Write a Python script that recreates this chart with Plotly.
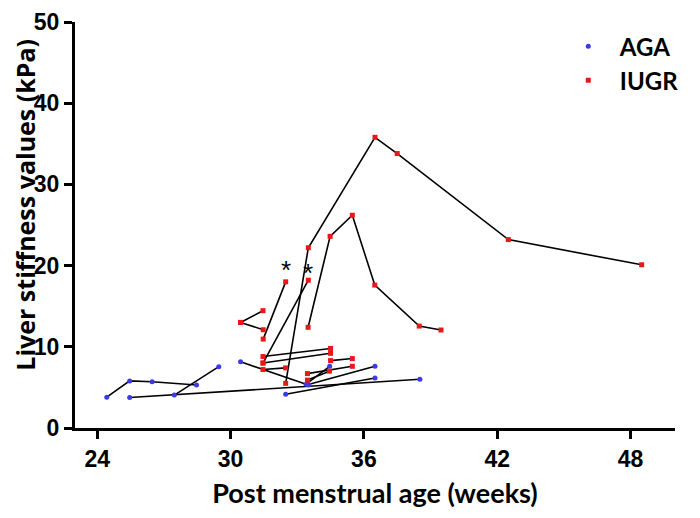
import plotly.graph_objects as go

# AGA subjects (post menstrual age in weeks, liver stiffness in kPa)
aga_x = [
    [24.43, 25.46, 26.47, 28.47],
    [25.46, 38.52],
    [27.47, 29.47],
    [30.45, 33.5],
    [32.48, 36.5],
    [33.5, 36.5],
    [33.4, 34.46],
]
aga_y = [
    [3.8, 5.8, 5.7, 5.3],
    [3.75, 6.0],
    [4.05, 7.55],
    [8.15, 5.3],
    [4.15, 6.15],
    [5.35, 7.6],
    [5.4, 7.6],
]

# IUGR subjects
iugr_x = [
    [32.48, 33.5, 36.5, 37.5, 42.5, 48.5],
    [33.49, 34.48, 35.48, 36.49, 38.49, 39.47],
    [30.45, 31.46],
    [30.45, 31.47],
    [31.47, 32.48],
    [31.46, 33.5],
    [31.46, 34.5],
    [31.46, 34.5],
    [31.46, 32.48],
    [34.5, 35.48],
    [33.46, 35.48],
    [33.46, 34.45],
]
iugr_y = [
    [5.5, 22.2, 35.8, 33.8, 23.2, 20.1],
    [12.4, 23.6, 26.2, 17.6, 12.55, 12.07],
    [13.0, 14.45],
    [13.0, 12.1],
    [10.95, 18.0],
    [8.0, 18.2],
    [8.8, 9.8],
    [8.0, 9.2],
    [7.2, 7.4],
    [8.3, 8.55],
    [6.7, 7.6],
    [5.9, 7.0],
]

star_x = [32.48, 33.5]
star_y = [19.9, 19.6]

x_ticks = [24, 30, 36, 42, 48]
y_ticks = [0, 10, 20, 30, 40, 50]


def flatten(groups):
    out = []
    for g in groups:
        out.extend(g)
        out.append(None)
    return out


fig = go.Figure()

# connecting lines
fig.add_trace(go.Scatter(
    x=flatten(aga_x) + flatten(iugr_x),
    y=flatten(aga_y) + flatten(iugr_y),
    mode="lines", line=dict(color="black", width=1.6),
    showlegend=False, hoverinfo="skip"))

# markers
fig.add_trace(go.Scatter(
    x=[v for g in aga_x for v in g], y=[v for g in aga_y for v in g],
    mode="markers", name="AGA",
    marker=dict(symbol="circle", size=5, color="#3a3ae8")))
fig.add_trace(go.Scatter(
    x=[v for g in iugr_x for v in g], y=[v for g in iugr_y for v in g],
    mode="markers", name="IUGR",
    marker=dict(symbol="square", size=5, color="#e81818")))

for sx, sy in zip(star_x, star_y):
    fig.add_annotation(x=sx, y=sy, text="*", showarrow=False,
                       font=dict(size=26, color="black", family="Liberation Sans"),
                       yshift=-4)

# y-axis title as annotation (placed slightly above plot centre as in reference)
fig.add_annotation(x=-0.0833, y=0.55, xref="paper", yref="paper",
                   text="Liver stiffness values (kPa)", textangle=-90,
                   showarrow=False, xanchor="center", yanchor="middle",
                   font=dict(family="Open Sans", size=25, color="black", weight="bold"))

axis_common = dict(
    showline=True, linecolor="black", linewidth=3,
    ticks="outside", ticklen=8, tickwidth=3, tickcolor="black",
    showgrid=False, zeroline=False, automargin=False,
    ticklabeloverflow="allow",
    tickfont=dict(family="Liberation Sans", size=23, color="black", weight="bold"),
)

fig.update_xaxes(range=[23, 50], tickvals=x_ticks, **axis_common,
                 title=dict(text="Post menstrual age (weeks)", standoff=14,
                            font=dict(family="Lato", size=27, color="black", weight="bold")))
fig.update_yaxes(range=[0, 50], tickvals=y_ticks, **axis_common)

fig.update_layout(
    width=700, height=518,
    margin=dict(l=67, r=33, t=14, b=98),
    plot_bgcolor="white", paper_bgcolor="white",
    legend=dict(x=0.803, y=0.995, xanchor="left", yanchor="top",
                itemwidth=53,
                font=dict(family="Lato", size=24, color="black", weight="bold"),
                bgcolor="rgba(0,0,0,0)"),
)

fig.write_html("out.html")
